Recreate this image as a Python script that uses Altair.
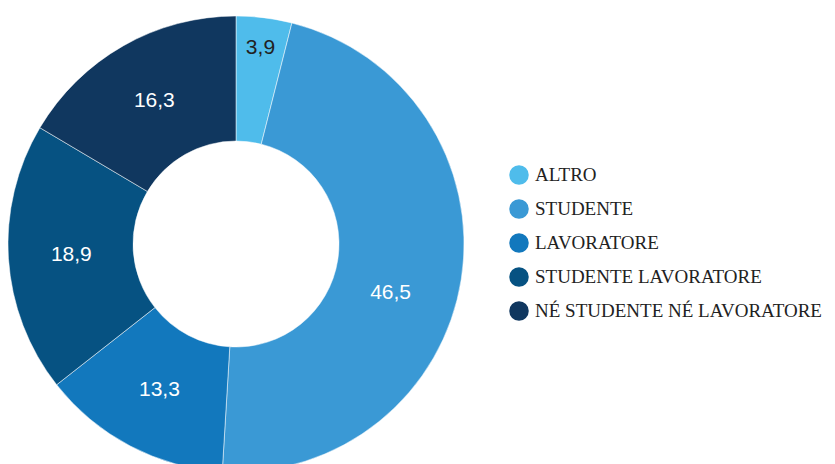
import altair as alt
import pandas as pd

categories = ["ALTRO", "STUDENTE", "LAVORATORE", "STUDENTE LAVORATORE", "NÉ STUDENTE NÉ LAVORATORE"]
values = [3.9, 46.5, 13.3, 18.9, 16.3]
labels = ["3,9", "46,5", "13,3", "18,9", "16,3"]
colors = ["#4FBCEB", "#3A99D5", "#1278BD", "#065282", "#10375F"]

df = pd.DataFrame({
    "cat": categories,
    "val": values,
    "lab": labels,
    "idx": list(range(len(categories))),
})

cx, cy = 228, 236

color = alt.Color(
    "cat:N",
    scale=alt.Scale(domain=categories, range=colors),
    legend=alt.Legend(
        title=None,
        orient="none",
        legendX=501,
        legendY=157,
        symbolType="circle",
        symbolSize=380,
        symbolStrokeWidth=0,
        labelFont="Liberation Serif",
        labelFontSize=19,
        labelColor="#222222",
        labelOffset=6,
        rowPadding=14,
        padding=0,
        labelLimit=400,
    ),
)

arcs = alt.Chart(df).mark_arc(
    outerRadius=228, innerRadius=103, stroke="white", strokeWidth=0.5
).encode(
    theta=alt.Theta("val:Q", stack=True),
    order=alt.Order("idx:O"),
    color=color,
    x=alt.value(cx),
    y=alt.value(cy),
)

# label angles: mid-angle of each slice (radians), computed before filtering
lab_base = alt.Chart(df).transform_joinaggregate(
    total="sum(val)"
).transform_window(
    cum="sum(val)", sort=[alt.SortField("idx")]
).transform_calculate(
    mid="(datum.cum - datum.val / 2) / datum.total * 2 * PI"
).encode(
    theta=alt.Theta("mid:Q", scale=None),
    text="lab:N",
    x=alt.value(cx),
    y=alt.value(cy),
)

text_main = lab_base.mark_text(
    radius=165, font="Liberation Sans", fontSize=21, color="white"
).transform_filter(alt.datum.idx > 1)

text_big = lab_base.mark_text(
    radius=162, thetaOffset=0.15, font="Liberation Sans", fontSize=21, color="white"
).transform_filter(alt.datum.idx == 1)

text_small = lab_base.mark_text(
    radius=198, font="Liberation Sans", fontSize=21, color="#222222"
).transform_filter(alt.datum.idx == 0)

chart = alt.layer(arcs, text_main, text_big, text_small).properties(
    width=819, height=456, padding=0, autosize="none"
).configure_view(stroke=None)

chart.save("out.html", embed_options={"renderer": "svg", "actions": False})
